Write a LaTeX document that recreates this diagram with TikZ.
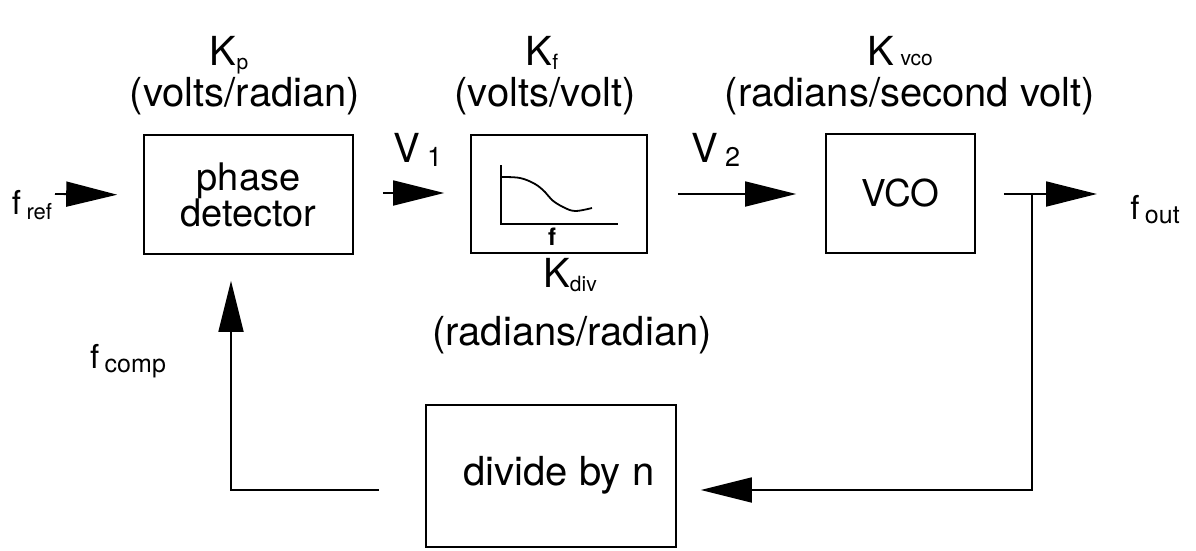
\documentclass[tikz,border=0pt]{standalone}
\usepackage{fontspec}
\setmainfont{TeX Gyre Heros}
\usetikzlibrary{arrows.meta}
\tikzset{
  blk/.style={draw, line width=1.6pt, inner sep=0pt},
  conn/.style={line width=1.8pt},
  arr/.style={line width=1.8pt, -{Triangle[length=51pt,width=25pt]}},
  lbl/.style={anchor=base, inner sep=0pt, font=\fontsize{40}{40}\selectfont},
  sig/.style={anchor=base, inner sep=0pt, font=\fontsize{33}{33}\selectfont},
}
\newcommand{\sbx}[3]{\raisebox{-#1}{\fontsize{#2}{#2}\selectfont #3}}
\begin{document}
\begin{tikzpicture}[x=1pt,y=-1pt]
\useasboundingbox (0,0) rectangle (1196,551);
% blocks
\node[blk, minimum width=209pt, minimum height=119pt, align=center,
  font=\fontsize{38}{36}\selectfont] (pd) at (248.5,194.5) {phase\\detector};
\node[blk, minimum width=176pt, minimum height=118pt] (filt) at (559,194) {};
\node[blk, minimum width=149pt, minimum height=119pt,
  font=\fontsize{37}{37}\selectfont] (vco) at (900.5,193.5) {VCO};
\node[blk, minimum width=250pt, minimum height=142pt] (div) at (551,476) {};
\node[lbl] (divt) at (559,485) {divide by n};
% filter sketch
\draw[conn] (501,165) -- (501,224) -- (618,224);
\draw[conn] plot[smooth, tension=0.6] coordinates {(501,177) (520,178) (535,184) (545,192) (552,200) (563,207) (575,211) (592,208)};
\node[anchor=base, inner sep=0pt, font=\fontsize{24}{24}\selectfont\bfseries] (ff) at (552,245) {f};
% labels above
\node[lbl] (kp) at (229,66) {K\sbx{4pt}{21}{p}};
\node[lbl] (kpu) at (245,106) {(volts/radian)};
\node[lbl] (kf) at (542,66) {K\sbx{4pt}{21}{f}};
\node[lbl] (kfu) at (545,106) {(volts/volt)};
\node[lbl] (kv) at (900,66) {K\,\sbx{0pt}{21}{vco}};
\node[lbl] (kvu) at (910,106) {(radians/second volt)};
\node[lbl] (kd) at (570,287) {K\sbx{4pt}{21}{div}};
\node[lbl] (kdu) at (572,345) {(radians/radian)};
\node[lbl] (v1) at (418,162) {V\,\sbx{4pt}{27}{1}};
\node[lbl] (v2) at (716,162) {V\,\sbx{4pt}{27}{2}};
% signal labels
\node[sig] (fref) at (32,214) {f\,\sbx{5pt}{22}{ref}};
\node[sig] (fout) at (1155,219) {f\,\sbx{4pt}{25}{out}};
\node[sig] (fcomp) at (128,368) {f\,\sbx{4pt}{25}{comp}};
% connectors
\coordinate (refin) at (55,194);
\draw[arr] (refin) -- ([yshift=-0.5pt]pd.west) [shorten >=26pt];
\draw[arr, shorten <=29pt, shorten >=26pt] (pd.east |- 0,193) -- (filt.west |- 0,193);
\draw[arr, shorten <=30pt, shorten >=29pt] (filt.east |- 0,194) -- (vco.west |- 0,194);
\coordinate (outtip) at (1097,194);
\coordinate (junc) at (1032,194);
\draw[arr, shorten <=28pt] (vco.east |- 0,194) -- (outtip);
\draw[arr, shorten >=24pt] (junc) -- (1032,490) -- (div.east |- 0,490);
\draw[arr, shorten <=46pt, shorten >=26pt] (div.west |- 0,490) -- (231,490) -- (pd.south -| 231,0);
\end{tikzpicture}
\end{document}
